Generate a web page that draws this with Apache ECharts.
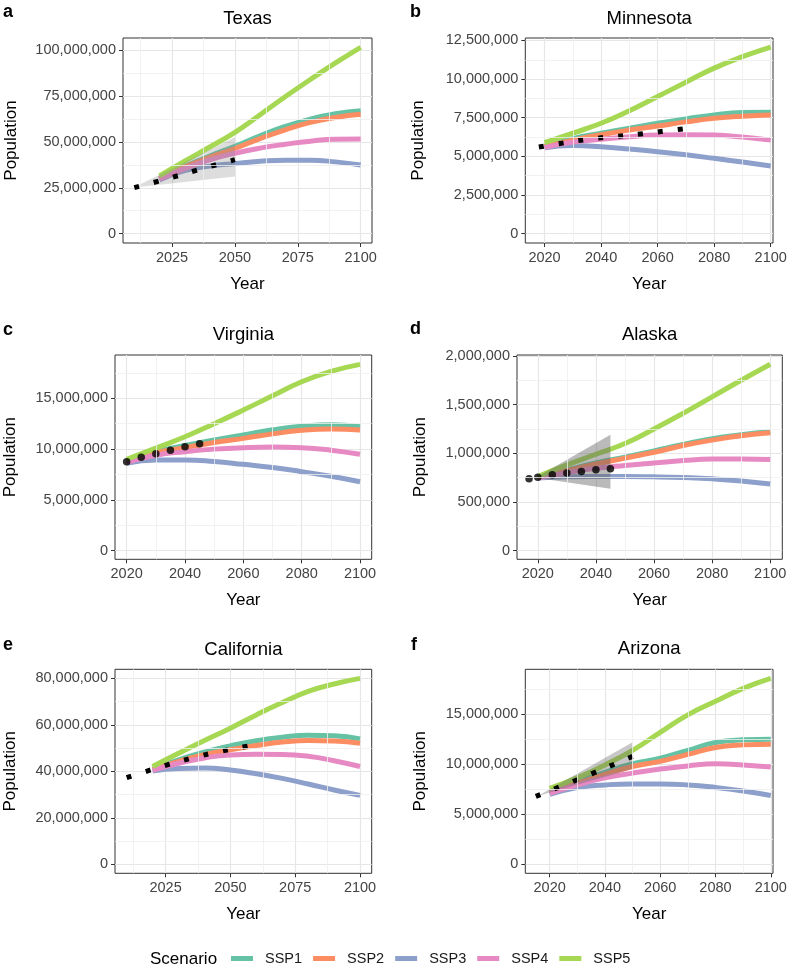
<!DOCTYPE html>
<html><head><meta charset="utf-8">
<script src="https://cdn.jsdelivr.net/npm/echarts@6/dist/echarts.min.js"></script>
<style>html,body{margin:0;padding:0;background:#fff}#c{width:787px;height:973px}</style>
</head><body><div id="c"></div>
<script>
// ---------------- DATA (population in millions) ----------------
const scenarios = ['SSP1', 'SSP2', 'SSP3', 'SSP4', 'SSP5'];
const scenarioColors = ['#66C2A5', '#FC8D62', '#8DA0CB', '#E78AC3', '#A6D854'];
const projYears = [2020, 2030, 2040, 2050, 2060, 2070, 2080, 2090, 2100];

// Texas
const texasProj = [
  [30.0, 36.6, 42.3, 47.6, 53.3, 58.4, 62.4, 65.3, 67.0],
  [29.9, 36.3, 41.6, 46.4, 51.8, 56.6, 60.6, 63.3, 65.0],
  [29.3, 34.3, 36.8, 38.2, 39.4, 40.0, 40.0, 39.1, 37.4],
  [29.6, 35.4, 40.2, 43.8, 46.6, 48.7, 50.4, 51.4, 51.5],
  [31.5, 39.5, 47.2, 55.2, 64.8, 74.6, 84.0, 93.0, 101.5]
];
const texasObsYears = [2010, 2020, 2030, 2040, 2050];
const texasObs = [25.1, 28.7, 32.6, 36.6, 40.3];
const texasBandYears = [2010, 2050];
const texasBandLow = [25.1, 31.2];
const texasBandHigh = [25.3, 52.5];

// Minnesota
const minnesotaProj = [
  [5.65, 6.15, 6.5, 6.82, 7.14, 7.42, 7.68, 7.83, 7.85],
  [5.62, 6.05, 6.4, 6.7, 6.96, 7.23, 7.46, 7.6, 7.68],
  [5.55, 5.7, 5.62, 5.47, 5.3, 5.1, 4.87, 4.63, 4.37],
  [5.58, 5.92, 6.1, 6.27, 6.38, 6.4, 6.38, 6.25, 6.05],
  [5.88, 6.5, 7.14, 7.95, 8.87, 9.8, 10.71, 11.45, 12.07]
];
const minnesotaObsYears = [2018, 2030, 2040, 2050, 2060, 2070];
const minnesotaObs = [5.6, 5.97, 6.2, 6.37, 6.58, 6.8];

// Virginia
const virginiaProj = [
  [8.8, 9.75, 10.35, 10.9, 11.4, 11.9, 12.25, 12.4, 12.2],
  [8.75, 9.65, 10.15, 10.65, 11.06, 11.5, 11.85, 11.98, 11.88],
  [8.6, 8.93, 8.93, 8.78, 8.5, 8.2, 7.78, 7.33, 6.79],
  [8.7, 9.4, 9.75, 10.0, 10.14, 10.2, 10.14, 9.9, 9.49],
  [9.0, 10.1, 11.22, 12.5, 13.85, 15.25, 16.63, 17.65, 18.35]
];
const virginiaObsYears = [2020, 2025, 2030, 2035, 2040, 2045];
const virginiaObs = [8.76, 9.19, 9.55, 9.88, 10.24, 10.53];

// Alaska
const alaskaProj = [
  [0.75, 0.825, 0.9, 0.96, 1.025, 1.09, 1.15, 1.19, 1.22],
  [0.75, 0.82, 0.89, 0.95, 1.01, 1.08, 1.135, 1.18, 1.21],
  [0.745, 0.758, 0.762, 0.762, 0.758, 0.75, 0.737, 0.715, 0.683],
  [0.745, 0.80, 0.845, 0.875, 0.90, 0.925, 0.94, 0.942, 0.937],
  [0.76, 0.88, 0.99, 1.10, 1.25, 1.41, 1.58, 1.75, 1.915]
];
const alaskaObsYears = [2017, 2020, 2025, 2030, 2035, 2040, 2045];
const alaskaObs = [0.737, 0.753, 0.780, 0.797, 0.813, 0.830, 0.841];
const alaskaBandYears = [2020, 2045];
const alaskaBandLow = [0.745, 0.634];
const alaskaBandHigh = [0.76, 1.19];

// California
const californiaProj = [
  [41.0, 45.0, 48.3, 51.0, 53.2, 54.7, 55.5, 55.3, 54.0],
  [40.8, 44.3, 47.2, 49.3, 51.1, 52.6, 53.3, 53.1, 52.1],
  [40.2, 41.3, 41.5, 40.6, 39.0, 37.0, 34.6, 32.0, 29.7],
  [40.5, 43.5, 45.8, 47.1, 47.4, 47.3, 46.5, 44.6, 42.1],
  [42.1, 47.8, 53.3, 58.6, 64.3, 69.6, 74.4, 77.6, 80.0]
];
const californiaObsYears = [2010, 2020, 2030, 2040, 2050, 2060];
const californiaObs = [37.3, 40.9, 44.2, 47.1, 49.5, 51.5];

// Arizona
const arizonaProj = [
  [7.3, 8.3, 9.2, 10.06, 10.62, 11.4, 12.18, 12.45, 12.52],
  [7.2, 8.1, 9.0, 9.79, 10.3, 11.0, 11.69, 11.95, 12.02],
  [7.0, 7.7, 7.95, 8.05, 8.05, 7.95, 7.7, 7.35, 6.9],
  [7.1, 7.95, 8.65, 9.13, 9.53, 9.85, 10.06, 9.95, 9.73],
  [7.6, 8.65, 9.95, 11.4, 13.2, 14.95, 16.3, 17.6, 18.6]
];
const arizonaObsYears = [2015, 2020, 2030, 2040, 2050];
const arizonaObs = [6.8, 7.35, 8.47, 9.62, 10.8];
const arizonaBandYears = [2016, 2050];
const arizonaBandLow = [6.87, 9.55];
const arizonaBandHigh = [6.9, 12.2];

// Tick values
const xTicks25 = [2025, 2050, 2075, 2100];
const xMinor25 = [2012.5, 2037.5, 2062.5, 2087.5];
const xTicks20 = [2020, 2040, 2060, 2080, 2100];
const xMinor20 = [2030, 2050, 2070, 2090];
const yTicksTexas = [0, 25, 50, 75, 100];
const yMinorTexas = [12.5, 37.5, 62.5, 87.5];
const yTicksMinnesota = [0, 2.5, 5, 7.5, 10, 12.5];
const yMinorMinnesota = [1.25, 3.75, 6.25, 8.75, 11.25];
const yTicks5M = [0, 5, 10, 15];
const yMinor5M = [2.5, 7.5, 12.5, 17.5];
const yTicksAlaska = [0, 0.5, 1, 1.5, 2];
const yMinorAlaska = [0.25, 0.75, 1.25, 1.75];
const yTicksCalifornia = [0, 20, 40, 60, 80];
const yMinorCalifornia = [10, 30, 50, 70];

// ---------------- LAYOUT ----------------
const panels = [
  {letter: 'a', name: 'Texas', proj: texasProj, obsYears: texasObsYears, obs: texasObs, obsType: 'dotted',
   bandYears: texasBandYears, bandLow: texasBandLow, bandHigh: texasBandHigh, bandColor: 'rgba(128,128,128,0.27)',
   box: [123, 38, 249, 205], xRange: [2005.5, 2104.5], yRange: [-5.1, 106.6],
   xTicks: xTicks25, xMinor: xMinor25, yTicks: yTicksTexas, yMinor: yMinorTexas, yGap: 103, letterPos: [3, 12], titleY: 19},
  {letter: 'b', name: 'Minnesota', proj: minnesotaProj, obsYears: minnesotaObsYears, obs: minnesotaObs, obsType: 'dotted',
   box: [525.3, 38, 247.7, 205], xRange: [2013.2, 2100.8], yRange: [-0.61, 12.66],
   xTicks: xTicks20, xMinor: xMinor20, yTicks: yTicksMinnesota, yMinor: yMinorMinnesota, yGap: 98, letterPos: [410, 12], titleY: 19},
  {letter: 'c', name: 'Virginia', proj: virginiaProj, obsYears: virginiaObsYears, obs: virginiaObs, obsType: 'points',
   box: [115, 355, 256.7, 204.3], xRange: [2016, 2104], yRange: [-0.85, 19.27],
   xTicks: xTicks20, xMinor: xMinor20, yTicks: yTicks5M, yMinor: yMinor5M, yGap: 96, letterPos: [3, 330], titleY: 334.5},
  {letter: 'd', name: 'Alaska', proj: alaskaProj, obsYears: alaskaObsYears, obs: alaskaObs, obsType: 'points',
   bandYears: alaskaBandYears, bandLow: alaskaBandLow, bandHigh: alaskaBandHigh, bandColor: 'rgba(95,95,95,0.43)',
   box: [517, 355, 265.3, 204.3], xRange: [2012.85, 2104.15], yRange: [-0.09, 2.01],
   xTicks: xTicks20, xMinor: xMinor20, yTicks: yTicksAlaska, yMinor: yMinorAlaska, yGap: 88, letterPos: [410, 329], titleY: 335},
  {letter: 'e', name: 'California', proj: californiaProj, obsYears: californiaObsYears, obs: californiaObs, obsType: 'dotted',
   box: [115, 669.3, 256.7, 204], xRange: [2005.5, 2104.5], yRange: [-3.8, 83.9],
   xTicks: xTicks25, xMinor: xMinor25, yTicks: yTicksCalifornia, yMinor: yMinorCalifornia, yGap: 96, letterPos: [3, 645], titleY: 649.5},
  {letter: 'f', name: 'Arizona', proj: arizonaProj, obsYears: arizonaObsYears, obs: arizonaObs, obsType: 'dotted',
   bandYears: arizonaBandYears, bandLow: arizonaBandLow, bandHigh: arizonaBandHigh, bandColor: 'rgba(100,100,100,0.36)',
   box: [525.3, 669.3, 247.7, 204], xRange: [2011.2, 2100.8], yRange: [-0.88, 19.5],
   xTicks: xTicks20, xMinor: xMinor20, yTicks: yTicks5M, yMinor: yMinor5M, yGap: 96, letterPos: [411, 645], titleY: 649}
];

const FONT = '"Liberation Sans", Arial, Helvetica, sans-serif';
const fmtPop = v => Math.round(v * 1e6).toLocaleString('en-US');

const grids = [], xAxes = [], yAxes = [], series = [], graphics = [];

panels.forEach((p, i) => {
  const [l, t, w, h] = p.box;
  grids.push({left: l, top: t, width: w, height: h, show: true, borderColor: '#333333', borderWidth: 1,
    backgroundColor: 'transparent', containLabel: false, outerBoundsMode: 'none'});
  xAxes.push({
    type: 'value', gridIndex: i, min: p.xRange[0], max: p.xRange[1],
    name: 'Year', nameLocation: 'middle', nameGap: 33,
    nameTextStyle: {fontSize: 17, color: '#000', fontFamily: FONT},
    axisLine: {show: false, onZero: false},
    axisTick: {show: true, length: 4, customValues: p.xTicks, lineStyle: {color: '#333', width: 1}},
    axisLabel: {customValues: p.xTicks, fontSize: 14.5, color: '#444444', margin: 7, fontFamily: FONT,
      formatter: v => String(Math.round(v))},
    splitLine: {show: true, lineStyle: {color: '#e6e6e6', width: 1.2}},
    minorTick: {show: false}, minorSplitLine: {show: false}
  });
  yAxes.push({
    type: 'value', gridIndex: i, min: p.yRange[0], max: p.yRange[1],
    name: 'Population', nameLocation: 'middle', nameGap: p.yGap, nameRotate: 90,
    nameTextStyle: {fontSize: 17, color: '#000', fontFamily: FONT},
    axisLine: {show: false, onZero: false},
    axisTick: {show: true, length: 4, customValues: p.yTicks, lineStyle: {color: '#333', width: 1}},
    axisLabel: {customValues: p.yTicks, fontSize: 14.5, color: '#444444', margin: 7, fontFamily: FONT,
      formatter: v => fmtPop(v)},
    splitLine: {show: true, lineStyle: {color: '#e6e6e6', width: 1.2}},
    minorTick: {show: false}, minorSplitLine: {show: false}
  });

  // minor grid lines
  series.push({
    type: 'line', xAxisIndex: i, yAxisIndex: i, data: [], silent: true, z: 1,
    markLine: {
      silent: true, symbol: ['none', 'none'], animation: false, label: {show: false},
      lineStyle: {color: '#efefef', width: 0.8, type: 'solid'}, emphasis: {disabled: true},
      data: p.xMinor.map(v => ({xAxis: v})).concat(p.yMinor.map(v => ({yAxis: v})))
    }
  });

  // scenario projections
  scenarios.forEach((s, k) => {
    series.push({
      type: 'line', name: s, xAxisIndex: i, yAxisIndex: i, z: 2, silent: true,
      data: projYears.map((yr, j) => [yr, p.proj[k][j]]),
      smooth: 0.5, showSymbol: false, symbol: 'none',
      lineStyle: {color: scenarioColors[k], width: 5, cap: 'butt'},
      itemStyle: {color: scenarioColors[k]}
    });
  });

  // uncertainty band
  if (p.bandYears) {
    series.push({
      type: 'custom', xAxisIndex: i, yAxisIndex: i, z: 3, silent: true,
      data: p.bandYears.map((yr, j) => [yr, p.bandLow[j], p.bandHigh[j]]),
      encode: {x: 0, y: [1, 2]},
      renderItem: (params, api) => {
        if (params.dataIndex !== 0) return null;
        const pts = [];
        p.bandYears.forEach((yr, j) => pts.push(api.coord([yr, p.bandHigh[j]])));
        for (let j = p.bandYears.length - 1; j >= 0; j--) pts.push(api.coord([p.bandYears[j], p.bandLow[j]]));
        return {type: 'polygon', shape: {points: pts}, style: {fill: p.bandColor}};
      }
    });
  }

  // observations / trend
  const obsData = p.obsYears.map((yr, j) => [yr, p.obs[j]]);
  if (p.obsType === 'dotted') {
    series.push({
      type: 'line', xAxisIndex: i, yAxisIndex: i, z: 4, silent: true, data: obsData,
      showSymbol: false, symbol: 'none', smooth: 0.2,
      lineStyle: {color: '#000', width: 5, type: [5, 15], cap: 'butt'}
    });
  } else {
    series.push({
      type: 'scatter', xAxisIndex: i, yAxisIndex: i, z: 4, silent: true, data: obsData,
      symbol: 'circle', symbolSize: 7.5, itemStyle: {color: '#000'}
    });
  }

  // panel letter and title
  graphics.push({type: 'text', x: p.letterPos[0], y: p.letterPos[1], silent: true,
    style: {text: p.letter, fontSize: 18, fontWeight: 'bold', fontFamily: FONT, fill: '#000', align: 'left', verticalAlign: 'middle'}});
  graphics.push({type: 'text', x: l + w / 2, y: p.titleY, silent: true,
    style: {text: p.name, fontSize: 18.5, fontFamily: FONT, fill: '#000', align: 'center', verticalAlign: 'middle'}});
});

graphics.push({type: 'text', x: 150, y: 959, silent: true,
  style: {text: 'Scenario', fontSize: 17, fontFamily: FONT, fill: '#000', align: 'left', verticalAlign: 'middle'}});

const chart = echarts.init(document.getElementById('c'), null, {renderer: 'canvas', width: 787, height: 973});
chart.setOption({
  animation: false,
  backgroundColor: '#ffffff',
  textStyle: {fontFamily: FONT},
  grid: grids, xAxis: xAxes, yAxis: yAxes, series: series,
  graphic: graphics,
  legend: {
    data: scenarios, left: 231, top: 951, orient: 'horizontal', selectedMode: false,
    icon: 'rect', itemWidth: 22, itemHeight: 5, itemGap: 11, padding: 0,
    textStyle: {fontSize: 14.5, color: '#1a1a1a', fontFamily: FONT, padding: [0, 0, 0, 7]}
  }
});
</script>
</body></html>
